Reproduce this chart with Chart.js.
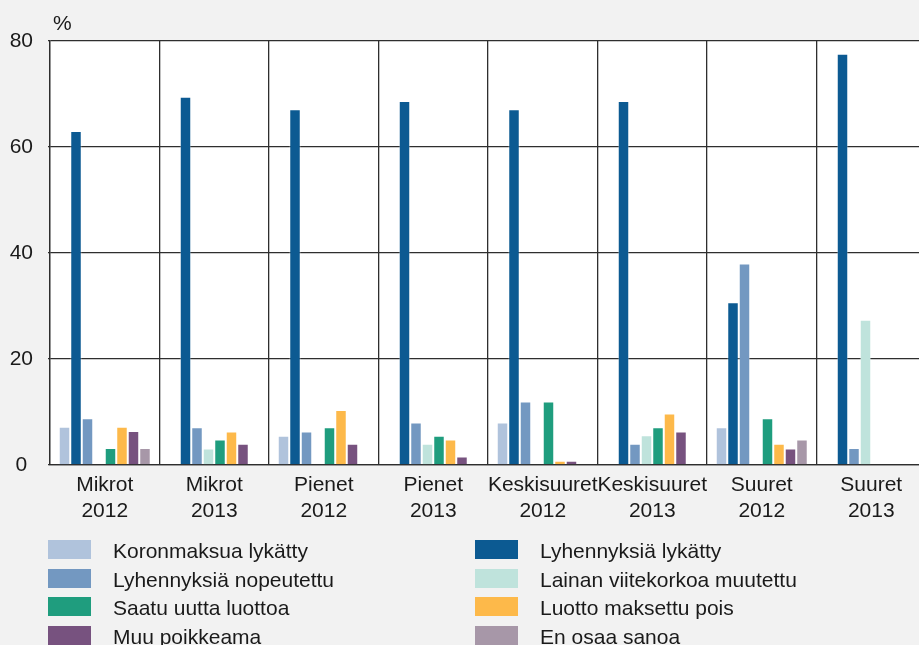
<!DOCTYPE html>
<html>
<head>
<meta charset="utf-8">
<script src="https://cdn.jsdelivr.net/npm/chart.js@4/dist/chart.umd.min.js"></script>
<style>
  html, body { margin: 0; padding: 0; background: #f2f2f2; overflow: hidden; width: 919px; height: 645px; }
  #wrap { position: absolute; left: 0; top: 0; width: 932px; height: 530px; }
  #legend { position: absolute; left: 0; top: 0; width: 919px; height: 645px; pointer-events: none;
            font-family: "Liberation Sans", Arial, sans-serif; font-size: 21px; color: #1a1a1a; }
  .item { position: absolute; height: 19px; }
  .box { position: absolute; left: 0; top: 0; width: 43px; height: 19px; }
  .lbl { position: absolute; top: 0; line-height: 19px; white-space: nowrap; }
</style>
</head>
<body>
<div id="wrap"><canvas id="c" width="932" height="530" style="width:932px;height:530px"></canvas></div>
<div id="legend"></div>
<script>
// ---- data ----
const categories = [
  ['Mikrot', '2012'], ['Mikrot', '2013'], ['Pienet', '2012'], ['Pienet', '2013'],
  ['Keskisuuret', '2012'], ['Keskisuuret', '2013'], ['Suuret', '2012'], ['Suuret', '2013']
];
const seriesNames = [
  'Koronmaksua lykätty', 'Lyhennyksiä lykätty', 'Lyhennyksiä nopeutettu', 'Lainan viitekorkoa muutettu',
  'Saatu uutta luottoa', 'Luotto maksettu pois', 'Muu poikkeama', 'En osaa sanoa'
];
const koronmaksuaLykatty     = [7.2, 0,    5.5,  0,    8.0,  0,    7.1,  0];
const lyhennyksiaLykatty     = [63.0, 69.5, 67.1, 68.7, 67.1, 68.7, 30.7, 77.6];
const lyhennyksiaNopeutettu  = [8.8, 7.1,  6.3,  8.0,  12.0, 4.0,  38.0, 3.2];
const lainanViitekorko       = [0,   3.1,  0,    4.0,  0,    5.6,  0,    27.4];
const saatuUuttaLuottoa      = [3.2, 4.8,  7.1,  5.5,  12.0, 7.1,  8.8,  0];
const luottoMaksettuPois     = [7.2, 6.3,  10.4, 4.8,  0.8,  9.7,  4.0,  0];
const muuPoikkeama           = [6.4, 4.0,  4.0,  1.6,  0.8,  6.3,  3.1,  0];
const enOsaaSanoa            = [3.2, 0,    0,    0,    0,    0,    4.8,  0];
const yTicks = [0, 20, 40, 60, 80];
const unitLabel = '%';

const seriesValues = [koronmaksuaLykatty, lyhennyksiaLykatty, lyhennyksiaNopeutettu, lainanViitekorko,
  saatuUuttaLuottoa, luottoMaksettuPois, muuPoikkeama, enOsaaSanoa];
const colors = ['#b0c3dc', '#0c5a92', '#7398c1', '#bfe3dc', '#1f9d7e', '#fdb94a', '#77527f', '#a797a8'];

const FONT = '"Liberation Sans", Arial, sans-serif';
const gridColor = '#2e2e2e';

const bgPlugin = {
  id: 'bg',
  beforeDraw(chart) {
    const a = chart.chartArea, ctx = chart.ctx;
    ctx.save();
    ctx.fillStyle = '#ffffff';
    ctx.fillRect(a.left, a.top, a.right - a.left, a.bottom - a.top);
    ctx.restore();
  },
  afterDraw(chart) {
    const a = chart.chartArea, ctx = chart.ctx;
    ctx.save();
    ctx.fillStyle = '#1a1a1a';
    ctx.font = '21px ' + FONT;
    ctx.textBaseline = 'alphabetic';
    ctx.textAlign = 'left';
    ctx.fillText(unitLabel, a.left + 3, 30);
    ctx.restore();
  }
};

const chart = new Chart(document.getElementById('c'), {
  type: 'bar',
  data: {
    labels: categories,
    datasets: seriesNames.map((n, i) => ({
      label: n,
      data: seriesValues[i],
      backgroundColor: colors[i],
      borderColor: 'rgba(255,255,255,0.35)',
      borderWidth: 1,
      categoryPercentage: 0.84,
      barPercentage: 1.0
    }))
  },
  options: {
    responsive: false,
    animation: false,
    layout: { padding: { top: 41, right: 6, left: 0, bottom: 0 } },
    plugins: { legend: { display: false }, tooltip: { enabled: false } },
    scales: {
      x: {
        grid: { color: gridColor, lineWidth: 1.3, drawTicks: false, offset: true },
        border: { color: gridColor, width: 1.3 },
        ticks: {
          color: '#1a1a1a', font: { family: FONT, size: 21, lineHeight: 1.25 },
          padding: 7, autoSkip: false, maxRotation: 0, minRotation: 0
        },
        afterFit(scale) { scale.height = 65; }
      },
      y: {
        min: 0, max: 80,
        afterBuildTicks(scale) { scale.ticks = yTicks.map(v => ({ value: v })); },
        grid: { color: gridColor, lineWidth: 1.3, tickLength: 2 },
        border: { color: gridColor, width: 1.3 },
        ticks: {
          color: '#1a1a1a', font: { family: FONT, size: 21 },
          padding: 15, crossAlign: 'center'
        },
        afterFit(scale) { scale.width = 50; }
      }
    }
  },
  plugins: [bgPlugin]
});

// ---- HTML legend built from datasets (2 columns, row-major order) ----
const legend = document.getElementById('legend');
const colX = [48, 475];
const rowY = [540, 568.5, 597, 625.5];
chart.data.datasets.forEach((ds, i) => {
  const it = document.createElement('div');
  it.className = 'item';
  it.style.left = colX[i % 2] + 'px';
  it.style.top = rowY[Math.floor(i / 2)] + 'px';
  const b = document.createElement('div');
  b.className = 'box';
  b.style.background = ds.backgroundColor;
  const t = document.createElement('div');
  t.className = 'lbl';
  t.style.left = '65px';
  t.style.top = '1px';
  t.textContent = ds.label;
  it.appendChild(b); it.appendChild(t);
  legend.appendChild(it);
});
</script>
</body>
</html>
